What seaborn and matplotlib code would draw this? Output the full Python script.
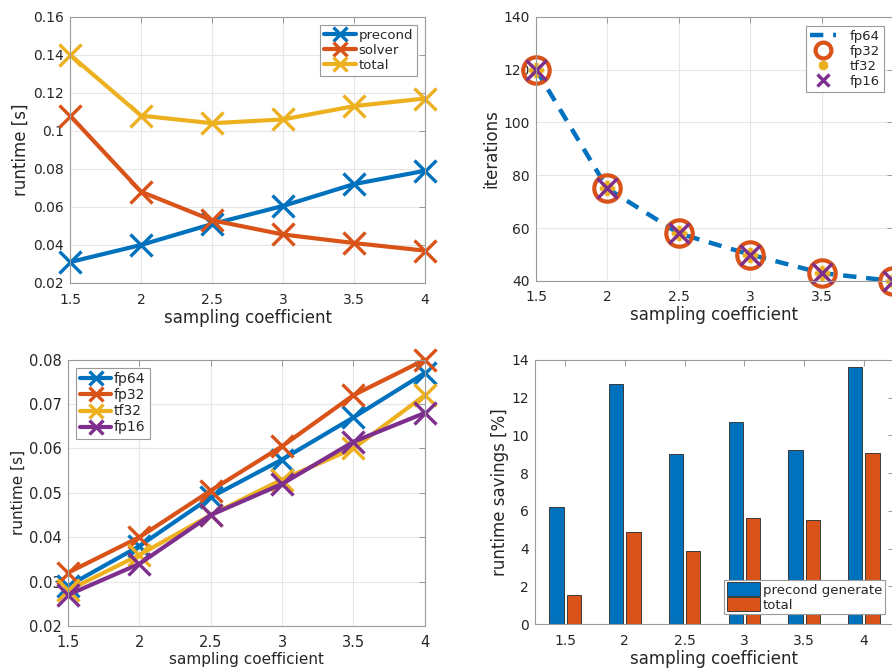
import numpy as np
import pandas as pd
import matplotlib
matplotlib.use("Agg")
import matplotlib.pyplot as plt
import seaborn as sns

# ---- data ----
coef = [1.5, 2.0, 2.5, 3.0, 3.5, 4.0]
coef_labels = ["1.5", "2", "2.5", "3", "3.5", "4"]

rt_precond = [0.031, 0.040, 0.051, 0.0605, 0.072, 0.079]
rt_solver = [0.108, 0.068, 0.053, 0.0455, 0.041, 0.037]
rt_total = [0.140, 0.108, 0.104, 0.106, 0.113, 0.117]

iters_fp64 = [120, 75, 58, 50, 43, 40]
iters_fp32 = [120, 75, 58, 50, 43, 40]
iters_tf32 = [120, 75, 58, 50, 43, 40]
iters_fp16 = [120, 75, 58, 50, 43, 40]

prec_fp64 = [0.029, 0.038, 0.049, 0.0575, 0.067, 0.077]
prec_fp32 = [0.032, 0.040, 0.0505, 0.0605, 0.072, 0.080]
prec_tf32 = [0.028, 0.036, 0.045, 0.053, 0.060, 0.072]
prec_fp16 = [0.027, 0.034, 0.045, 0.052, 0.0615, 0.068]

sav_precond = [6.2, 12.7, 9.0, 10.7, 9.25, 13.65]
sav_total = [1.55, 4.9, 3.9, 5.6, 5.5, 9.05]

C_BLUE, C_ORANGE, C_YELLOW, C_PURPLE = "#0072BD", "#D95319", "#EDB120", "#7E2F8E"

sns.set_theme(style="white")
plt.rcParams["font.family"] = ["DejaVu Sans"]
TXT = "#262626"
SPINE = "#9a9a9a"

fig = plt.figure(figsize=(8.92, 6.69), dpi=100)


def style_ax(ax, fs_label=12, grid=True, xpad=6.5, labelsize=10):
    for s in ax.spines.values():
        s.set_color(SPINE)
        s.set_linewidth(0.8)
        s.set_visible(True)
    ax.tick_params(direction="in", length=4, width=0.7, color=SPINE,
                   labelsize=labelsize, top=True, right=True, labelcolor=TXT)
    ax.tick_params(axis="x", pad=xpad)
    ax.tick_params(axis="y", pad=4.5)
    if grid:
        ax.grid(True, color="#e6e6e6", linewidth=0.8)
        ax.set_axisbelow(True)
    ax.xaxis.label.set_size(fs_label)
    ax.yaxis.label.set_size(fs_label)
    ax.xaxis.label.set_color(TXT)
    ax.yaxis.label.set_color(TXT)
    ax.xaxis.labelpad = 1.5
    ax.yaxis.labelpad = 2


def legend(ax, loc, **kw):
    opts = dict(fontsize=9.5, frameon=True, fancybox=False, edgecolor=SPINE,
                handlelength=2.4, handletextpad=0.2, borderpad=0.3,
                labelspacing=0.15, borderaxespad=0.6, framealpha=1)
    opts.update(kw)
    lg = ax.legend(loc=loc, **opts)
    lg.get_frame().set_linewidth(0.8)
    for t in lg.get_texts():
        t.set_color(TXT)
    return lg


def xline(ax, y, label, color, lw=3.0, ms=16):
    sns.lineplot(x=coef, y=y, ax=ax, label=label, color=color, linewidth=lw,
                 marker="x", markersize=ms, mec=color, mew=2.4)


# ---- top left ----
ax1 = fig.add_axes([0.0785, 0.577, 0.398, 0.398])
xline(ax1, rt_precond, "precond", C_BLUE)
xline(ax1, rt_solver, "solver", C_ORANGE)
xline(ax1, rt_total, "total", C_YELLOW)
for l in ax1.get_lines():
    l.set_clip_on(False)
ax1.set_xlim(1.5, 4)
ax1.set_ylim(0.02, 0.16)
ax1.set_xticks(coef)
ax1.set_xticklabels(coef_labels)
ax1.set_yticks([0.02, 0.04, 0.06, 0.08, 0.1, 0.12, 0.14, 0.16])
ax1.set_yticklabels(["0.02", "0.04", "0.06", "0.08", "0.1", "0.12", "0.14", "0.16"])
ax1.set_xlabel("sampling coefficient")
ax1.set_ylabel("runtime [s]")
style_ax(ax1, xpad=7.5)
legend(ax1, "upper right", markerscale=0.6)

# ---- top right ----
ax2 = fig.add_axes([0.601, 0.580, 0.400, 0.395])
sns.lineplot(x=coef, y=iters_fp64, ax=ax2, label="fp64", color=C_BLUE,
             linewidth=3.2, linestyle=(0, (3, 2.2)))
sns.lineplot(x=coef, y=iters_fp32, ax=ax2, label="fp32", color=C_ORANGE,
             linestyle="none", marker="o", markersize=19, mfc="none",
             mec=C_ORANGE, mew=3.0)
sns.lineplot(x=coef, y=iters_tf32, ax=ax2, label="tf32", color=C_YELLOW,
             linestyle="none", marker=(8, 2, 0), markersize=11,
             mec=C_YELLOW, mew=2.6)
sns.lineplot(x=coef, y=iters_fp16, ax=ax2, label="fp16", color=C_PURPLE,
             linestyle="none", marker="x", markersize=14, mec=C_PURPLE, mew=2.4)
for l in ax2.get_lines():
    l.set_clip_on(False)
ax2.set_xlim(1.5, 4)
ax2.set_ylim(40, 140)
ax2.set_xticks(coef)
# the "4" label falls outside the figure edge in the reference
ax2.set_xticklabels(coef_labels[:-1] + [""])
ax2.set_yticks([40, 60, 80, 100, 120, 140])
ax2.set_xlabel("sampling coefficient")
ax2.set_ylabel("iterations")
style_ax(ax2, xpad=6.5)
legend(ax2, "upper right", markerscale=0.6, handletextpad=1.0,
       handlelength=2.0, borderaxespad=0.7)

# ---- bottom left ----
ax3 = fig.add_axes([0.0762, 0.0643, 0.400, 0.398])
xline(ax3, prec_fp64, "fp64", C_BLUE)
xline(ax3, prec_fp32, "fp32", C_ORANGE)
xline(ax3, prec_tf32, "tf32", C_YELLOW)
xline(ax3, prec_fp16, "fp16", C_PURPLE)
for l in ax3.get_lines():
    l.set_clip_on(False)
ax3.set_xlim(1.5, 4)
ax3.set_ylim(0.02, 0.08)
ax3.set_xticks(coef)
ax3.set_xticklabels(coef_labels)
ax3.set_yticks([0.02, 0.03, 0.04, 0.05, 0.06, 0.07, 0.08])
ax3.set_yticklabels(["0.02", "0.03", "0.04", "0.05", "0.06", "0.07", "0.08"])
ax3.set_xlabel("sampling coefficient")
ax3.set_ylabel("runtime [s]")
style_ax(ax3, fs_label=11, xpad=6.5, labelsize=10.5)
legend(ax3, "upper left", markerscale=0.6, fontsize=10, borderaxespad=0.6,
       handlelength=2.2)

# ---- bottom right ----
ax4 = fig.add_axes([0.600, 0.067, 0.402, 0.395])
df = pd.DataFrame({
    "coef": coef_labels * 2,
    "value": sav_precond + sav_total,
    "series": ["precond generate"] * 6 + ["total"] * 6,
})
sns.barplot(data=df, x="coef", y="value", hue="series", ax=ax4,
            palette=[C_BLUE, C_ORANGE], width=0.58, gap=0.17,
            edgecolor="#3a3a3a", linewidth=0.7, saturation=1.0)
ax4.set_xlim(-0.5, 5.5)
ax4.set_ylim(0, 14)
ax4.set_yticks([0, 2, 4, 6, 8, 10, 12, 14])
ax4.set_xlabel("sampling coefficient")
ax4.set_ylabel("runtime savings [%]")
style_ax(ax4, grid=False, xpad=7.0)
ax4.grid(False)
legend(ax4, "lower right", handlelength=2.5, handleheight=1.2,
       handletextpad=0.2, labelspacing=0.05, borderpad=0.2,
       bbox_to_anchor=(0.0, 0.013, 0.993, 1.0), borderaxespad=0.5)

fig.savefig("out.png", dpi=100)
